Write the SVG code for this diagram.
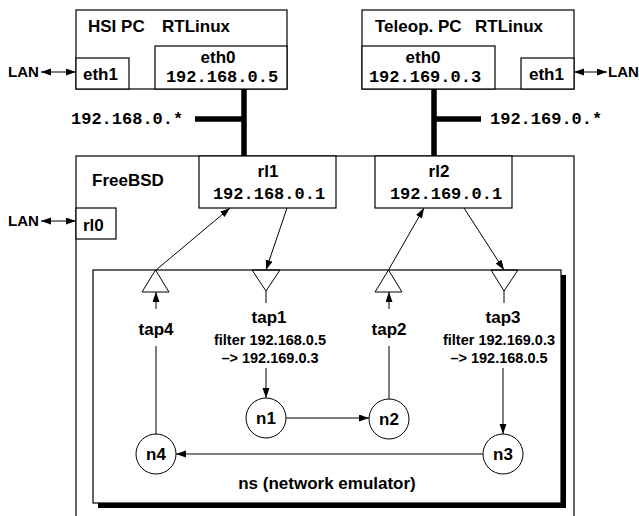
<svg xmlns="http://www.w3.org/2000/svg" width="639" height="516" viewBox="0 0 639 516">
<style>
.box{fill:#fff;stroke:#000;stroke-width:1.2}
.b{font-family:"Liberation Sans",Arial,sans-serif;font-weight:bold;font-size:17px;fill:#000}
.s{font-size:15px}
.f{font-size:14.5px}
.m{font-family:"Liberation Mono","Courier New",monospace;font-weight:bold;font-size:17px;fill:#000}
.c{text-anchor:middle}
.ln{stroke:#000;stroke-width:1;fill:none}
.thick{stroke:#000;stroke-width:5.5;fill:none}
.arr{marker-end:url(#ah)}
.dbl{marker-end:url(#ah);marker-start:url(#ah)}
</style>
<defs>
<marker id="ah" markerUnits="userSpaceOnUse" markerWidth="11" markerHeight="8" refX="10" refY="3.5" orient="auto-start-reverse">
<path d="M0,0 L10,3.5 L0,7 z" fill="#000"/>
</marker>
</defs>

<g id="freebsd">
<rect class="box" x="76" y="156" width="498" height="380"/>
<text class="b" x="92" y="186">FreeBSD</text>
</g>

<g id="hsi">
<rect class="box" x="76" y="10" width="211" height="79"/>
<text class="b" x="88" y="32">HSI PC</text>
<text class="b" x="162" y="32">RTLinux</text>
</g>
<g id="hsi-eth1">
<rect class="box" x="76" y="58" width="53" height="31"/>
<text class="b" x="83" y="80">eth1</text>
</g>
<g id="hsi-eth0">
<rect class="box" x="155" y="46" width="132" height="43"/>
<text class="b c" x="218" y="63">eth0</text>
<text class="m c" x="222" y="82">192.168.0.5</text>
</g>

<g id="teleop">
<rect class="box" x="362" y="10" width="212" height="79"/>
<text class="b" x="375" y="32">Teleop. PC</text>
<text class="b" x="475" y="32">RTLinux</text>
</g>
<g id="teleop-eth0">
<rect class="box" x="362" y="46" width="133" height="43"/>
<text class="b c" x="423" y="63">eth0</text>
<text class="m c" x="425" y="82">192.169.0.3</text>
</g>
<g id="teleop-eth1">
<rect class="box" x="521" y="58" width="53" height="31"/>
<text class="b" x="529" y="80">eth1</text>
</g>

<g id="rl0">
<rect class="box" x="76" y="208" width="40" height="31"/>
<text class="b" x="83" y="231">rl0</text>
</g>
<g id="rl1">
<rect class="box" x="199" y="156" width="137" height="52"/>
<text class="b c" x="268" y="177">rl1</text>
<text class="m c" x="269" y="199">192.168.0.1</text>
</g>
<g id="rl2">
<rect class="box" x="375" y="156" width="137" height="52"/>
<text class="b c" x="439" y="177">rl2</text>
<text class="m c" x="446" y="199">192.169.0.1</text>
</g>

<g id="ns">
<rect x="98" y="275" width="468" height="233" fill="#000"/>
<rect class="box" x="93" y="270" width="468" height="233"/>
<text class="b c" x="327" y="489">ns (network emulator)</text>
</g>

<g id="tap4">
<polygon class="ln" points="155.5,270 142,292 169,292" fill="#fff"/>
<text class="b c" x="156" y="335">tap4</text>
</g>
<g id="tap1">
<polygon class="ln" points="252,270 280,270 266,291" fill="#fff"/>
<line class="ln" x1="266" y1="291" x2="266" y2="303"/>
<text class="b c" x="269" y="323">tap1</text>
<text class="b f c" x="270" y="345">filter 192.168.0.5</text>
<text class="b f c" x="270" y="363">–&gt; 192.169.0.3</text>
</g>
<g id="tap2">
<polygon class="ln" points="388.5,270 375,292 402,292" fill="#fff"/>
<text class="b c" x="389" y="335">tap2</text>
</g>
<g id="tap3">
<polygon class="ln" points="491,270 518,270 504,291" fill="#fff"/>
<line class="ln" x1="504" y1="291" x2="504" y2="303"/>
<text class="b c" x="503" y="323">tap3</text>
<text class="b f c" x="499" y="345">filter 192.169.0.3</text>
<text class="b f c" x="499" y="363">–&gt; 192.168.0.5</text>
</g>

<g id="n1"><circle class="ln" cx="266" cy="418" r="20" fill="#fff"/><text class="b c" x="266" y="424">n1</text></g>
<g id="n2"><circle class="ln" cx="389" cy="419" r="20" fill="#fff"/><text class="b c" x="389" y="425">n2</text></g>
<g id="n3"><circle class="ln" cx="503" cy="454" r="20" fill="#fff"/><text class="b c" x="503" y="460">n3</text></g>
<g id="n4"><circle class="ln" cx="156" cy="454" r="20" fill="#fff"/><text class="b c" x="156" y="460">n4</text></g>

<g id="lan-labels">
<text class="b s" x="8" y="77">LAN</text>
<text class="b s" x="608" y="77">LAN</text>
<text class="b s" x="8" y="226">LAN</text>
<text class="m" x="71" y="124">192.168.0.*</text>
<text class="m" x="490" y="124">192.169.0.*</text>
</g>

<g id="connectors">
<line class="thick" x1="244" y1="89" x2="244" y2="156"/>
<line class="thick" x1="195" y1="119" x2="244" y2="119"/>
<line class="thick" x1="434" y1="89" x2="434" y2="156"/>
<line class="thick" x1="434" y1="119" x2="481" y2="119"/>
<line class="ln dbl" x1="41" y1="72" x2="76" y2="72"/>
<line class="ln dbl" x1="574" y1="72" x2="607" y2="72"/>
<line class="ln dbl" x1="41" y1="221" x2="76" y2="221"/>
<line class="ln arr" x1="156" y1="270" x2="230" y2="208"/>
<line class="ln arr" x1="287" y1="208" x2="266" y2="270"/>
<line class="ln arr" x1="388.5" y1="270" x2="424" y2="208"/>
<line class="ln arr" x1="464" y1="208" x2="504" y2="270"/>
<line class="ln arr" x1="156" y1="309" x2="156" y2="292"/>
<line class="ln" x1="156" y1="434" x2="156" y2="346"/>
<line class="ln arr" x1="389" y1="309" x2="389" y2="292"/>
<line class="ln" x1="389" y1="399" x2="389" y2="346"/>
<line class="ln arr" x1="266" y1="368" x2="266" y2="398"/>
<line class="ln arr" x1="503" y1="368" x2="503" y2="434"/>
<line class="ln arr" x1="286" y1="418" x2="369" y2="418"/>
<line class="ln arr" x1="483" y1="454" x2="176" y2="454"/>
</g>
</svg>
